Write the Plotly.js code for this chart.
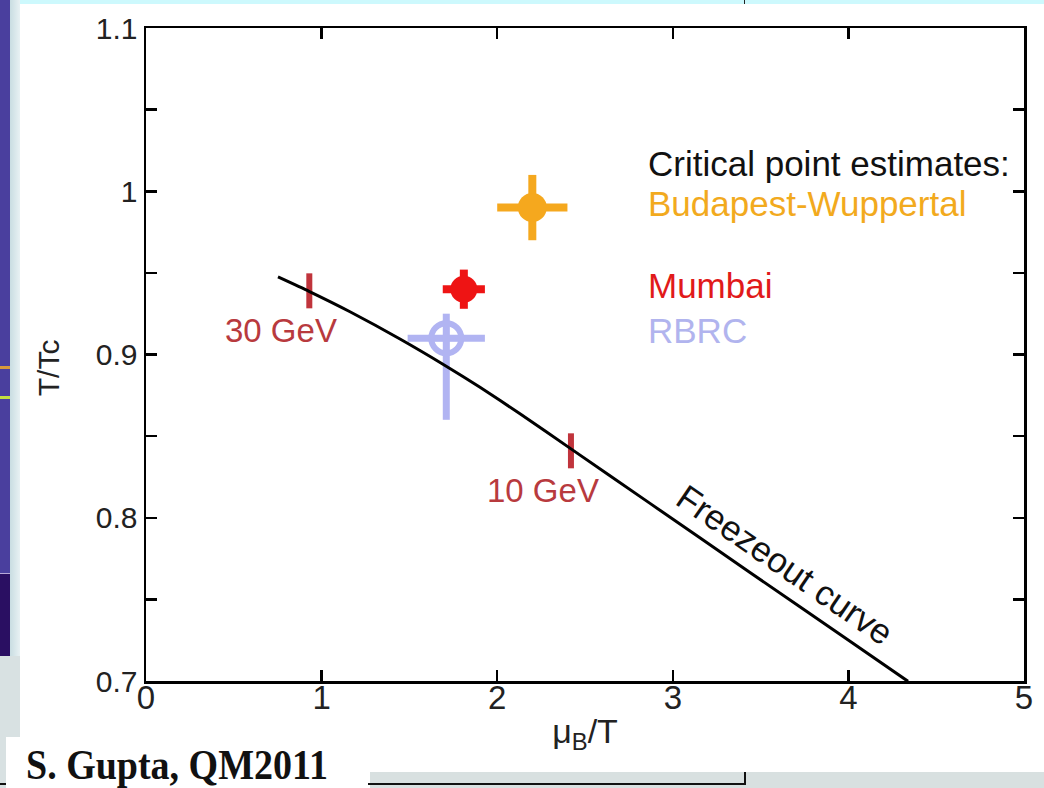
<!DOCTYPE html>
<html><head><meta charset="utf-8">
<script src="https://cdn.plot.ly/plotly-3.0.1.min.js"></script>
<style>
html,body{margin:0;padding:0;background:#fff;width:1044px;height:788px;overflow:hidden;position:relative;}
.deco{position:absolute;}
#chart{position:absolute;left:0;top:0;width:1044px;height:788px;}
#credit{position:absolute;left:6px;top:737px;width:362px;height:51px;background:#fff;}
#credit span{position:absolute;left:20px;top:10px;display:block;white-space:nowrap;
  font-family:"Liberation Serif","Times New Roman",serif;font-weight:bold;font-size:38px;line-height:1;color:#111;
  transform:scaleY(1.12);transform-origin:left 32px;}
</style></head>
<body>
<div class="deco" style="left:10px;top:0;width:1034px;height:4px;background:#cdf9fd"></div>
<div class="deco" style="left:744px;top:0;width:1px;height:4px;background:#222"></div>
<div class="deco" style="left:10px;top:0;width:10px;height:737px;background:linear-gradient(to right,#c9dde2,#e8f1f3)"></div>
<div class="deco" style="left:0;top:0;width:10px;height:573px;background:#4a3f9e"></div>
<div class="deco" style="left:0;top:366px;width:10px;height:3px;background:#d99a3c"></div>
<div class="deco" style="left:0;top:396px;width:10px;height:3px;background:#c5e040"></div>
<div class="deco" style="left:0;top:573px;width:10px;height:1px;background:#b8a8d8"></div>
<div class="deco" style="left:0;top:574px;width:10px;height:82px;background:#2a0f62"></div>
<div class="deco" style="left:0;top:656px;width:20px;height:132px;background:#d8e1e2"></div>
<div class="deco" style="left:370px;top:772px;width:674px;height:16px;background:#d8e0e0"></div>
<div class="deco" style="left:0;top:783px;width:745px;height:2px;background:#111"></div>
<div class="deco" style="left:744px;top:772px;width:2px;height:13px;background:#111"></div>
<div id="chart"></div>
<div id="credit"><span>S. Gupta, QM2011</span></div>
<script>
// Freezeout curve (mu_B/T, T/Tc)
const curveX = [0.7517, 0.9282, 1.1617, 1.4465, 1.7027, 1.9021, 2.1298, 2.4203, 2.8702, 3.4396, 4.0091, 4.3394];
const curveY = [0.9475, 0.9387, 0.9262, 0.9095, 0.8933, 0.8799, 0.8637, 0.8422, 0.8088, 0.7665, 0.7243, 0.6998];

// Beam-energy marks on the freezeout curve
const energyX = [0.93, 2.42];
const energyY = [0.939, 0.841];
const energyLabels = ["30 GeV", "10 GeV"];

// Critical point estimates
const bwX = [2.2], bwY = [0.99], bwErrX = [0.2], bwErrY = [0.02];
const mumX = [1.81], mumY = [0.94], mumErrX = [0.12], mumErrY = [0.012];
const rbrcX = [1.71], rbrcY = [0.91], rbrcErrX = [0.22], rbrcErrYPlus = [0.015], rbrcErrYMinus = [0.05];

// Axis ticks
const xTickVals = [0, 1, 2, 3, 4, 5];
const xTickText = ["0", "1", "2", "3", "4", "5"];
const yTickVals = [0.7, 0.8, 0.9, 1.0, 1.1];
const yTickText = ["0.7", "0.8", "0.9", "1", "1.1"];

const legendLines = ["Critical point estimates:", "Budapest-Wuppertal", "Mumbai", "RBRC"];

const cOrange = "#f5a81e", cRed = "#ee1414", cLav = "#b1b4f2", cMark = "#c0343c";
const sans = "Liberation Sans, Arial, Helvetica, sans-serif";

const traces = [
  {x: rbrcX, y: rbrcY, mode: "markers", type: "scatter",
   marker: {symbol: "circle-cross-open", size: 30, color: cLav, line: {color: cLav, width: 6}},
   error_x: {type: "data", array: rbrcErrX, thickness: 7, width: 0, color: cLav},
   error_y: {type: "data", symmetric: false, array: rbrcErrYPlus, arrayminus: rbrcErrYMinus, thickness: 7, width: 0, color: cLav}},
  {x: bwX, y: bwY, mode: "markers", type: "scatter",
   marker: {symbol: "circle", size: 29, color: cOrange},
   error_x: {type: "data", array: bwErrX, thickness: 8, width: 0, color: cOrange},
   error_y: {type: "data", array: bwErrY, thickness: 8, width: 0, color: cOrange}},
  {x: mumX, y: mumY, mode: "markers", type: "scatter",
   marker: {symbol: "circle", size: 27, color: cRed},
   error_x: {type: "data", array: mumErrX, thickness: 8, width: 0, color: cRed},
   error_y: {type: "data", array: mumErrY, thickness: 8, width: 0, color: cRed}},
  {x: energyX, y: energyY, mode: "markers", type: "scatter",
   marker: {symbol: "line-ns-open", size: 25, color: cMark, line: {color: cMark, width: 6}}},
  {x: curveX, y: curveY, mode: "lines", type: "scatter",
   line: {color: "#000", width: 3, shape: "spline", smoothing: 0.5}}
];

const annotations = [];
energyLabels.forEach((t, i) => annotations.push({
  x: energyX[i], y: energyY[i], xref: "x", yref: "y", text: t, showarrow: false,
  xanchor: "center", yanchor: "middle",
  xshift: -28, yshift: -40, font: {family: sans, size: 33, color: "#b83a3e"}
}));
const legendColors = ["#111", "#f2aa1e", "#e11a1a", "#b1b4ee"];
const legendYs = [0.792, 0.732, 0.606, 0.536];
legendLines.forEach((t, i) => annotations.push({
  x: 0.5695, y: legendYs[i], xref: "paper", yref: "paper", xanchor: "left", yanchor: "middle",
  text: t, showarrow: false, font: {family: sans, size: 35, color: legendColors[i]}
}));
annotations.push({x: 0.7278, y: 0.179, xref: "paper", yref: "paper", xanchor: "center", yanchor: "middle",
  text: "Freezeout curve", showarrow: false, textangle: 34.5, font: {family: sans, size: 35, color: "#111"}});
// y-axis title, placed slightly below the axis centre as in the original
annotations.push({x: -0.1116, y: 0.479, xref: "paper", yref: "paper", xanchor: "center", yanchor: "middle",
  text: "T/Tc", showarrow: false, textangle: -90, font: {family: sans, size: 30, color: "#222"}});

const axisCommon = {showline: true, linecolor: "#000", linewidth: 2.5, mirror: "ticks",
  ticks: "inside", ticklen: 11, tickwidth: 2.5, tickcolor: "#000", showgrid: false, zeroline: false};

const layout = {
  width: 1044, height: 788,
  margin: {l: 146, r: 20, t: 28, b: 107},
  paper_bgcolor: "rgba(0,0,0,0)", plot_bgcolor: "rgba(0,0,0,0)",
  showlegend: false,
  xaxis: Object.assign({}, axisCommon, {range: [0, 5], tickmode: "array", tickvals: xTickVals, ticktext: xTickText,
    ticklabelstandoff: -14,
    tickfont: {family: sans, size: 33, color: "#222"},
    title: {text: "μ<sub>B</sub>/T", font: {family: sans, size: 34, color: "#222"}, standoff: 4}}),
  yaxis: Object.assign({}, axisCommon, {range: [0.7, 1.1], tickmode: "array", tickvals: yTickVals, ticktext: yTickText,
    minor: {tickmode: "linear", tick0: 0.7, dtick: 0.05, ticks: "inside", ticklen: 11, tickwidth: 2.5, tickcolor: "#000", showgrid: false},
    tickfont: {family: sans, size: 30, color: "#222"}}),
  annotations: annotations
};

Plotly.newPlot("chart", traces, layout, {displayModeBar: false, staticPlot: true});
</script>
</body></html>
